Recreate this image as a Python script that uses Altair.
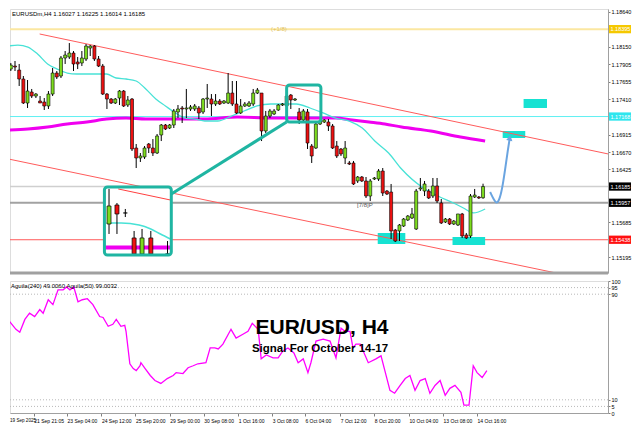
import altair as alt
import pandas as pd

# ---------------- data ----------------
header = "EURUSDm,H4  1.16027 1.16225 1.16014 1.16185"
osc_header = "Aguila(240) 49.0060  Aguila(50) 99.0032"
title_main = "EUR/USD, H4"
title_sub = "Signal For October 14-17"

# H4 candles, bar index 0..113
opens = [1.17835, 1.17877, 1.17821, 1.17695, 1.17358, 1.17512, 1.17456, 1.17386, 1.17372, 1.17316,
         1.17484, 1.17779, 1.17737, 1.17990, 1.18004, 1.18060, 1.17934, 1.17920, 1.17976, 1.18130,
         1.18158, 1.17976, 1.17877, 1.17484, 1.17414, 1.17358, 1.17428, 1.17526, 1.17330, 1.17414,
         1.16726, 1.16586, 1.16600, 1.16782, 1.16726, 1.16656, 1.16909, 1.17049, 1.17007, 1.17049,
         1.17232, 1.17288, 1.17274, 1.17274, 1.17274, 1.17288, 1.17232, 1.17414, 1.17414, 1.17344,
         1.17386, 1.17358, 1.17358, 1.17498, 1.17344, 1.17218, 1.17316, 1.17316, 1.17344, 1.17498,
         1.17498, 1.16965, 1.17175, 1.17204, 1.17260, 1.17330, 1.17316, 1.17470, 1.17400, 1.17232,
         1.17119, 1.17232, 1.16754, 1.16726, 1.17063, 1.17091, 1.17091, 1.17035, 1.16754, 1.16712,
         1.16586, 1.16516, 1.16516, 1.16263, 1.16319, 1.16263, 1.16052, 1.16291, 1.16291, 1.16403,
         1.16122, 1.16108, 1.15575, 1.15561, 1.15631, 1.15715, 1.15743, 1.15589, 1.16151, 1.16122,
         1.16122, 1.16052, 1.16193, 1.15954, 1.15687, 1.15729, 1.15659, 1.15645, 1.15800, 1.15505,
         1.15491, 1.16038, 1.16038, 1.16027]
highs = [1.17920, 1.17948, 1.17906, 1.17737, 1.17681, 1.17555, 1.17498, 1.17456, 1.17428, 1.17526,
         1.17849, 1.17807, 1.18018, 1.18088, 1.18200, 1.18088, 1.18004, 1.18088, 1.18186, 1.18172,
         1.18172, 1.18018, 1.17906, 1.17498, 1.17428, 1.17428, 1.17540, 1.17540, 1.17456, 1.17428,
         1.16782, 1.16656, 1.16754, 1.16796, 1.16852, 1.16923, 1.17063, 1.17063, 1.17063, 1.17274,
         1.17330, 1.17316, 1.17555, 1.17330, 1.17344, 1.17316, 1.17428, 1.17625, 1.17484, 1.17484,
         1.17414, 1.17400, 1.17779, 1.17667, 1.17667, 1.17414, 1.17372, 1.17386, 1.17555, 1.17569,
         1.17498, 1.17246, 1.17274, 1.17274, 1.17344, 1.17358, 1.17569, 1.17484, 1.17428, 1.17288,
         1.17274, 1.17274, 1.16782, 1.17077, 1.17119, 1.17133, 1.17133, 1.17063, 1.16824, 1.16726,
         1.16824, 1.16544, 1.16544, 1.16333, 1.16333, 1.16319, 1.16291, 1.16319, 1.16431, 1.16445,
         1.16136, 1.16221, 1.15589, 1.15659, 1.15743, 1.15785, 1.15884, 1.16151, 1.16305, 1.16263,
         1.16151, 1.16305, 1.16305, 1.16010, 1.15743, 1.15743, 1.15715, 1.15800, 1.15814, 1.15533,
         1.16080, 1.16151, 1.16052, 1.16225]
lows = [1.17807, 1.17807, 1.17597, 1.17344, 1.17288, 1.17428, 1.17428, 1.17358, 1.17260, 1.17274,
        1.17456, 1.17695, 1.17709, 1.17906, 1.17976, 1.17807, 1.17835, 1.17877, 1.17948, 1.18018,
        1.17948, 1.17863, 1.17470, 1.17274, 1.17344, 1.17344, 1.17330, 1.17302, 1.17302, 1.16684,
        1.16445, 1.16530, 1.16572, 1.16656, 1.16614, 1.16642, 1.16824, 1.16979, 1.16993, 1.17007,
        1.17147, 1.17077, 1.17147, 1.17246, 1.17246, 1.17133, 1.17204, 1.17288, 1.17175, 1.17316,
        1.17330, 1.17344, 1.17344, 1.17316, 1.17204, 1.17204, 1.17302, 1.17302, 1.17316, 1.17484,
        1.16824, 1.16937, 1.17147, 1.17189, 1.17246, 1.17316, 1.17288, 1.17274, 1.17386, 1.17063,
        1.17105, 1.16712, 1.16516, 1.16712, 1.17049, 1.17077, 1.16965, 1.16712, 1.16586, 1.16614,
        1.16501, 1.16487, 1.16207, 1.16235, 1.16249, 1.16024, 1.15982, 1.16277, 1.16263, 1.16052,
        1.16066, 1.15448, 1.15406, 1.15420, 1.15617, 1.15701, 1.15729, 1.15575, 1.16122, 1.16052,
        1.16010, 1.16024, 1.15954, 1.15659, 1.15673, 1.15645, 1.15645, 1.15631, 1.15463, 1.15448,
        1.15463, 1.16024, 1.16010, 1.16014]
closes = [1.17891, 1.17863, 1.17695, 1.17358, 1.17526, 1.17456, 1.17484, 1.17358, 1.17316, 1.17484,
          1.17779, 1.17723, 1.17990, 1.18032, 1.18060, 1.17906, 1.17906, 1.17990, 1.18158, 1.18158,
          1.17976, 1.17877, 1.17484, 1.17414, 1.17358, 1.17414, 1.17526, 1.17316, 1.17400, 1.16712,
          1.16586, 1.16614, 1.16726, 1.16726, 1.16656, 1.16895, 1.17049, 1.16993, 1.17049, 1.17246,
          1.17274, 1.17274, 1.17288, 1.17302, 1.17316, 1.17218, 1.17414, 1.17428, 1.17344, 1.17386,
          1.17344, 1.17386, 1.17498, 1.17344, 1.17218, 1.17316, 1.17344, 1.17358, 1.17498, 1.17540,
          1.16965, 1.17175, 1.17246, 1.17246, 1.17330, 1.17344, 1.17456, 1.17400, 1.17414, 1.17119,
          1.17246, 1.16796, 1.16614, 1.17063, 1.17105, 1.17119, 1.17035, 1.16726, 1.16614, 1.16642,
          1.16726, 1.16501, 1.16221, 1.16319, 1.16263, 1.16052, 1.16263, 1.16305, 1.16403, 1.16094,
          1.16080, 1.15561, 1.15420, 1.15645, 1.15729, 1.15771, 1.15800, 1.16122, 1.16165, 1.16221,
          1.16024, 1.16193, 1.15982, 1.15673, 1.15729, 1.15659, 1.15701, 1.15800, 1.15491, 1.15463,
          1.16052, 1.16066, 1.16024, 1.16185]

# moving averages (bar index, price)
ma_fast_idx = [-0.6, 1.7, 4.1, 6.4, 8.8, 11.1, 13.5, 15.8, 18.2, 20.5, 22.9, 25.2, 27.6, 30.0, 32.3,
               34.7, 37.0, 39.4, 41.7, 44.1, 46.4, 49.5, 52.8, 55.8, 58.9, 62.2, 65.2, 68.3, 71.6,
               74.7, 77.7, 81.0, 84.1, 87.1, 90.4, 93.5, 98.7, 102.2, 105.9, 108.3, 110.7, 113.5]
ma_fast_val = [1.18158, 1.18172, 1.18144, 1.18046, 1.17906, 1.17835, 1.17779, 1.17765, 1.17765, 1.17765,
               1.17765, 1.17709, 1.17695, 1.17667, 1.17555, 1.17414, 1.17316, 1.17218, 1.17147, 1.17133,
               1.17105, 1.17105, 1.17175, 1.17246, 1.17316, 1.17344, 1.17344, 1.17344, 1.17288, 1.17218,
               1.17147, 1.17105, 1.17007, 1.16824, 1.16656, 1.16431, 1.16165, 1.16052, 1.15954, 1.15884,
               1.15814, 1.15870]
ma_slow_idx = [-0.6, 4.1, 8.8, 13.5, 18.2, 22.9, 27.6, 32.3, 37.0, 41.7, 46.4, 54.2, 62.2, 70.0,
               77.7, 81.7, 85.7, 89.5, 93.5, 100.5, 107.6, 113.5]
ma_slow_val = [1.16979, 1.16993, 1.17021, 1.17063, 1.17091, 1.17133, 1.17147, 1.17133, 1.17133, 1.17133,
               1.17133, 1.17161, 1.17147, 1.17147, 1.17147, 1.17119, 1.17091, 1.17063, 1.17021, 1.16965,
               1.16881, 1.16824]

# oscillator (bar index, value 0..100)
osc_idx = [-0.6, 0.9, 2.4, 3.3, 4.5, 5.6, 6.8, 8.0, 8.8, 10.0, 11.1, 12.3, 13.5, 14.3, 15.1, 16.0, 17.0,
           18.0, 19.2, 20.5, 22.1, 22.9, 24.1, 25.2, 26.0, 27.1, 28.0, 28.3, 29.2, 30.0, 30.7, 31.6,
           31.8, 32.8, 34.0, 35.1, 36.5, 38.0, 39.4, 40.1, 41.7, 42.9, 44.1, 45.2, 47.1, 48.1, 49.2,
           50.0, 51.1, 53.0, 54.2,
           55.8, 57.0, 58.0, 59.4, 60.1, 61.3, 62.9, 64.1, 65.2, 66.4, 67.8, 68.8, 70.0, 71.1, 71.8,
           73.0, 74.7, 76.3, 77.7, 78.9, 79.8, 81.0, 81.7, 82.4, 83.4, 85.3, 87.1, 88.3, 89.2, 90.4,
           91.5, 92.8, 94.0, 95.1, 96.3, 97.5, 98.7, 99.8, 101.0, 102.2, 103.4, 104.5, 105.7, 107.1,
           107.8, 109.0, 110.0, 110.9, 112.1, 113.2]
osc_val = [71.9, 69.4, 63.4, 61.2, 70.9, 75.6, 73.1, 78.4, 75.6, 85.8, 82.1, 93.3, 93.3, 95.5, 93.3, 95.5,
           84.3, 85.8, 86.6, 82.1, 73.1, 72.4, 65.7, 67.2, 70.9, 65.7, 66.4, 61.9, 37.3, 33.6, 32.1,
           35.8, 38.1, 33.6, 28.4, 24.6, 22.4, 26.1, 28.4, 30.6, 29.9, 34.3, 35.8, 37.3, 38.1, 49.3,
           49.3, 48.5, 52.2, 63.4, 56.7,
           59.7, 61.9, 67.9, 63.4, 41.0, 44.0, 41.8, 41.8, 47.0, 49.3, 45.5, 38.1, 41.0, 30.6, 38.1,
           54.5, 56.0, 54.5, 41.8, 64.2, 61.9, 61.9, 49.3, 52.2, 52.2, 38.1, 41.0, 43.3, 32.1, 17.2,
           15.0, 20.9, 26.1, 28.4, 17.2, 24.6, 26.1, 14.9, 20.9, 24.6, 13.4, 18.7, 20.9, 15.7,
           6.0, 6.0, 35.8, 30.6, 26.9, 32.1]
osc_levels = [95, 90, 10, 5]
osc_ticks = [0, 5, 10, 90, 95, 100]

# horizontal price levels with their axis tags
levels = [1.18395, 1.17168, 1.16185, 1.15957, 1.15438]
level_text = ["1.18395", "1.17168", "1.16185", "1.15957", "1.15438"]
level_line = ["#fbe7a1", "#5ff0f2", "#cfcfcf", "#a2a2a2", "#ff5a5a"]
level_width = [2, 1, 1.5, 2, 1]
level_bg = ["#f5c800", "#2ee6ee", "#000000", "#000000", "#ff1010"]

price_ticks = [1.18640, 1.18150, 1.17905, 1.17655, 1.17410, 1.16915, 1.16670, 1.16425,
               1.15685, 1.15195, 1.14946]

time_ticks = [6.6, 14.4, 22.5, 30.5, 38.6, 46.6, 54.7, 62.7, 70.4, 78.7, 86.7, 94.9, 102.9, 110.9]
time_labels = ["21 Sep 21:05", "23 Sep 04:00", "24 Sep 12:00", "25 Sep 20:00", "29 Sep 00:00",
               "30 Sep 08:00", "1 Oct 16:00", "3 Oct 08:00", "6 Oct 04:00", "7 Oct 12:00",
               "8 Oct 20:00", "10 Oct 04:00", "13 Oct 08:00", "14 Oct 16:00"]
first_date = "19 Sep 2025"

# trend channel (bar index, price)
chan_idx = [6.9, 145.0, -0.6, 145.0]
chan_val = [1.18327, 1.16617, 1.16572, 1.14794]
chan_grp = ["up", "up", "lo", "lo"]

# highlight zones (bar index range, price range)
zone_i1 = [87.8, 105.7, 122.7, 117.7]
zone_i2 = [94.4, 113.5, 128.3, 123.1]
zone_p1 = [1.15533, 1.15477, 1.17414, 1.16965]
zone_p2 = [1.15378, 1.15364, 1.17288, 1.16867]

# projected path (bar index, price)
path_idx = [114.7, 115.6, 116.3, 117.0, 117.7, 118.4, 118.9, 119.4]
path_val = [1.16108, 1.15996, 1.15940, 1.16010, 1.16193, 1.16473, 1.16684, 1.16867]

# zoom box and its magnified inset (bar index, price)
zoom_box = [66.0, 74.2, 1.17611, 1.17091]
inset_box = [22.4, 38.4, 1.16179, 1.15224]
link_idx = [38.4, 66.0]
link_val = [1.16080, 1.17091]
ins_i = [23.5, 25.4, 27.4, 29.5, 31.4, 33.5, 37.5]
ins_o = [1.15659, 1.15926, 1.15814, 1.15463, 1.15238, 1.15463, 1.15238]
ins_h = [1.16151, 1.15954, 1.15870, 1.15561, 1.15589, 1.15561, 1.15420]
ins_l = [1.15519, 1.15519, 1.15757, 1.15238, 1.15238, 1.15238, 1.15238]
ins_c = [1.15912, 1.15800, 1.15814, 1.15238, 1.15463, 1.15238, 1.15238]
ins_ma_idx = [22.9, 26.4, 30.7, 33.5, 35.8, 38.2]
ins_ma_val = [1.15673, 1.15673, 1.15645, 1.15589, 1.15519, 1.15449]
ins_ma2_idx = [22.6, 38.2]
ins_ma2_val = [1.15329, 1.15329]
ins_line_idx = [25.7, 38.2]
ins_line_val = [1.16151, 1.15996]

# ---------------- layout ----------------
W = 598
H_MAIN = 264
H_OSC = 132
X0 = 1.0
X1 = X0 + W / 4.25
FONT = "Liberation Sans"
TEAL = "#1fb5a2"
BULL = "#7ddc1f"
BEAR = "#ee1111"

xs = alt.Scale(domain=[X0, X1], nice=False, zero=False)
ys = alt.Scale(domain=[1.14971, 1.18678], nice=False, zero=False)
y_axis = alt.Axis(orient="right", values=price_ticks, format=".5f", title=None, grid=False,
                  labelFontSize=5.5, labelFont=FONT, labelColor="#000000", tickSize=2,
                  tickColor="#808080", domainColor="#a0a0a0", labelPadding=1, labelOverlap=False)


def X(f):
    return alt.X(f, type="quantitative", scale=xs, axis=None)


def Y(f):
    return alt.Y(f, type="quantitative", scale=ys, axis=y_axis)


cdf = pd.DataFrame({"i": list(range(len(opens))), "o": opens, "h": highs, "l": lows, "c": closes})
cdf["col"] = [BULL if c >= o else BEAR for o, c in zip(opens, closes)]
ldf = pd.DataFrame({"p": levels, "t": level_text, "lc": level_line, "lw": level_width, "bg": level_bg})
chdf = pd.DataFrame({"i": chan_idx, "p": chan_val, "g": chan_grp})
zdf = pd.DataFrame({"i1": zone_i1, "i2": zone_i2, "p1": zone_p1, "p2": zone_p2})
fast = pd.DataFrame({"i": ma_fast_idx, "p": ma_fast_val})
slow = pd.DataFrame({"i": ma_slow_idx, "p": ma_slow_val})
path = pd.DataFrame({"i": path_idx, "p": path_val})
tip = path.tail(1)
zbox = pd.DataFrame({"i1": [zoom_box[0]], "i2": [zoom_box[1]], "p1": [zoom_box[2]], "p2": [zoom_box[3]]})
ibox = pd.DataFrame({"i1": [inset_box[0]], "i2": [inset_box[1]], "p1": [inset_box[2]], "p2": [inset_box[3]]})
link = pd.DataFrame({"i": link_idx, "p": link_val})
idf = pd.DataFrame({"i": ins_i, "o": ins_o, "h": ins_h, "l": ins_l, "c": ins_c})
idf["col"] = [BULL if c > o else BEAR for o, c in zip(ins_o, ins_c)]
ima = pd.DataFrame({"i": ins_ma_idx, "p": ins_ma_val})
ima2 = pd.DataFrame({"i": ins_ma2_idx, "p": ins_ma2_val})
iline = pd.DataFrame({"i": ins_line_idx, "p": ins_line_val})

lev_lines = alt.Chart(ldf).mark_rule().encode(
    y=Y("p"), color=alt.Color("lc:N", scale=None), strokeWidth=alt.StrokeWidth("lw:Q", scale=None))
zones = alt.Chart(zdf).mark_rect(color="#16e2d2").encode(x=X("i1"), x2="i2", y=Y("p1"), y2="p2")
channel = alt.Chart(chdf).mark_line(clip=True, color="#ff5b5b", strokeWidth=1).encode(
    x=X("i"), y=Y("p"), detail="g:N")
slow_ma = alt.Chart(slow).mark_line(color="#f000f0", strokeWidth=3, interpolate="monotone", clip=True).encode(
    x=X("i"), y=Y("p"))
fast_ma = alt.Chart(fast).mark_line(color="#48e2d6", strokeWidth=1.3, interpolate="monotone", clip=True).encode(
    x=X("i"), y=Y("p"))
wicks = alt.Chart(cdf).mark_rule(color="#000000", strokeWidth=1, clip=True).encode(x=X("i"), y=Y("l"), y2="h")
bodies = alt.Chart(cdf).mark_bar(orient="vertical", size=3, stroke="#000000", strokeWidth=0.6, clip=True).encode(
    x=X("i"), y=Y("o"), y2="c", color=alt.Color("col:N", scale=None))
zoom_rect = alt.Chart(zbox).mark_rect(fillOpacity=0, stroke=TEAL, strokeWidth=3, cornerRadius=3).encode(
    x=X("i1"), x2="i2", y=Y("p1"), y2="p2")
link_line = alt.Chart(link).mark_line(color=TEAL, strokeWidth=3).encode(x=X("i"), y=Y("p"))
inset_bg = alt.Chart(ibox).mark_rect(color="#ffffff", cornerRadius=3).encode(
    x=X("i1"), x2="i2", y=Y("p1"), y2="p2")
inset_red = alt.Chart(iline).mark_line(color="#ff4040", strokeWidth=1).encode(x=X("i"), y=Y("p"))
inset_ma2 = alt.Chart(ima2).mark_line(color="#f000f0", strokeWidth=4).encode(x=X("i"), y=Y("p"))
inset_ma = alt.Chart(ima).mark_line(color="#48e2d6", strokeWidth=1.5, interpolate="monotone").encode(
    x=X("i"), y=Y("p"))
inset_wicks = alt.Chart(idf).mark_rule(color="#000000", strokeWidth=1).encode(x=X("i"), y=Y("l"), y2="h")
inset_bodies = alt.Chart(idf).mark_bar(orient="vertical", size=4, stroke="#000000", strokeWidth=0.7).encode(
    x=X("i"), y=Y("o"), y2="c", color=alt.Color("col:N", scale=None))
inset_frame = alt.Chart(ibox).mark_rect(fillOpacity=0, stroke=TEAL, strokeWidth=3, cornerRadius=3).encode(
    x=X("i1"), x2="i2", y=Y("p1"), y2="p2")
arrow = alt.Chart(path).mark_line(color="#6aa4e0", strokeWidth=2, interpolate="basis").encode(
    x=X("i"), y=Y("p"))
arrow_tip = alt.Chart(tip).mark_point(shape="triangle-up", filled=True, size=40, color="#6aa4e0",
                                      opacity=1, angle=10).encode(x=X("i"), y=Y("p"))
tag_bg = alt.Chart(ldf).transform_calculate(hi="datum.p + 0.00058", lo="datum.p - 0.00058").mark_rect().encode(
    x=alt.value(W + 1), x2=alt.value(W + 23), y=Y("hi:Q"), y2="lo:Q", color=alt.Color("bg:N", scale=None))
tag_txt = alt.Chart(ldf).mark_text(align="left", baseline="middle", fontSize=5.5, font=FONT,
                                   color="#ffffff").encode(x=alt.value(W + 2.5), y=Y("p"), text="t:N")
txt_head = alt.Chart(pd.DataFrame({"t": [header]})).mark_text(
    align="left", baseline="middle", fontSize=6, font=FONT, color="#000000").encode(
    x=alt.value(2), y=alt.value(5), text="t:N")
txt_plus = alt.Chart(pd.DataFrame({"t": ["(+1/8)"]})).mark_text(
    align="left", baseline="middle", fontSize=6, font=FONT, color="#e0c060").encode(
    x=alt.value(261), y=alt.value(20), text="t:N")
txt_78 = alt.Chart(pd.DataFrame({"t": ["[7/8]P"]})).mark_text(
    align="left", baseline="middle", fontSize=6, font=FONT, color="#555555").encode(
    x=alt.value(347), y=alt.value(196), text="t:N")
sep = alt.Chart(pd.DataFrame({"a": [0]})).mark_rule(color="#a0a0a0", strokeWidth=3).encode(
    x=alt.value(0), x2=alt.value(W), y=alt.value(H_MAIN))

main = alt.layer(
    lev_lines, zones, channel, slow_ma, fast_ma, wicks, bodies, zoom_rect, link_line,
    inset_bg, inset_red, inset_ma2, inset_ma, inset_wicks, inset_bodies, inset_frame,
    arrow, arrow_tip, tag_bg, tag_txt, txt_head, txt_plus, txt_78, sep
).properties(width=W, height=H_MAIN)

# ---------------- oscillator panel ----------------
label_expr = ("[" + ",".join("'" + s + "'" for s in time_labels) + "][indexof(["
              + ",".join(str(v) for v in time_ticks) + "], datum.value)]")
x_axis = alt.Axis(orient="bottom", values=time_ticks, labelExpr=label_expr, title=None, grid=False,
                  labelAlign="left", labelFontSize=5, labelFont=FONT, labelColor="#000000",
                  labelPadding=2, tickSize=3, tickColor="#808080", domainColor="#a0a0a0",
                  labelFlush=False, labelOverlap=False)
yo_scale = alt.Scale(domain=[0, 100], nice=False, zero=False)
yo_axis = alt.Axis(orient="right", values=osc_ticks, title=None, grid=False, labelFontSize=5.5,
                   labelFont=FONT, labelColor="#000000", tickSize=2, tickColor="#808080",
                   domainColor="#a0a0a0", labelPadding=1, labelOverlap=False)


def XO(f):
    return alt.X(f, type="quantitative", scale=xs, axis=x_axis)


def YO(f):
    return alt.Y(f, type="quantitative", scale=yo_scale, axis=yo_axis)


odf = pd.DataFrame({"i": osc_idx, "v": osc_val})
gdf = pd.DataFrame({"v": osc_levels})
grid = alt.Chart(gdf).mark_rule(color="#b8b8b8", strokeDash=[1, 2], strokeWidth=1).encode(y=YO("v"))
osc_line = alt.Chart(odf).mark_line(color="#ff00ff", strokeWidth=1.3, clip=True).encode(x=XO("i"), y=YO("v"))
t1 = alt.Chart(pd.DataFrame({"t": [title_main]})).mark_text(
    align="center", baseline="middle", fontSize=21, fontWeight="bold", font=FONT, color="#000000").encode(
    x=alt.value(312), y=alt.value(47), text="t:N")
t2 = alt.Chart(pd.DataFrame({"t": [title_sub]})).mark_text(
    align="center", baseline="middle", fontSize=11.5, fontWeight="bold", font=FONT, color="#000000").encode(
    x=alt.value(310), y=alt.value(68), text="t:N")
t3 = alt.Chart(pd.DataFrame({"t": [osc_header]})).mark_text(
    align="left", baseline="middle", fontSize=6, font=FONT, color="#000000").encode(
    x=alt.value(1), y=alt.value(5), text="t:N")
t4 = alt.Chart(pd.DataFrame({"t": [first_date]})).mark_text(
    align="left", baseline="top", fontSize=4.6, font=FONT, color="#000000").encode(
    x=alt.value(0), y=alt.value(H_OSC + 5), text="t:N")

osc = alt.layer(grid, osc_line, t1, t2, t3, t4).properties(width=W, height=H_OSC)

chart = alt.vconcat(main, osc, spacing=3).properties(padding=0, background="#ffffff").configure_view(
    stroke="#a0a0a0", strokeWidth=1).configure(font=FONT)

chart.save("out.html", embed_options={"renderer": "svg", "actions": False})
